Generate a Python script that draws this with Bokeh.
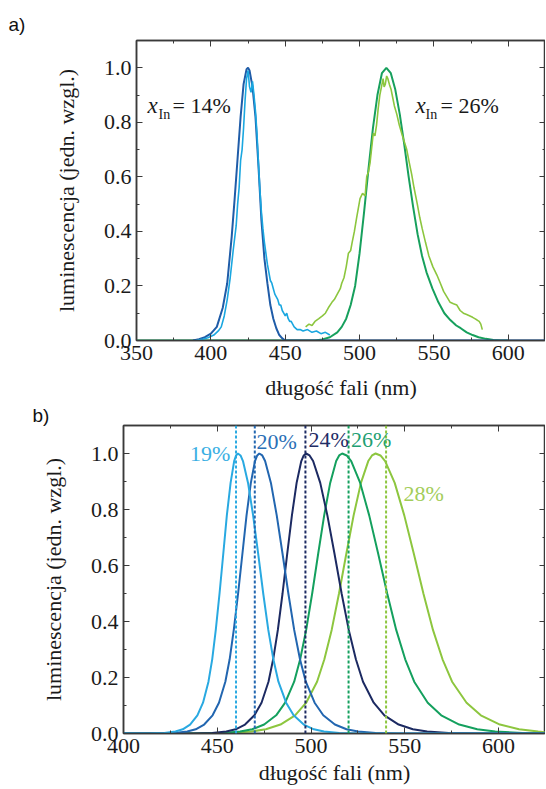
from bokeh.plotting import figure
from bokeh.layouts import column, row
from bokeh.models import (Range1d, SingleIntervalTicker, LinearAxis, Label, Span,
                          PrintfTickFormatter)
from bokeh.embed import file_html
from bokeh.resources import INLINE

# ---------------- data: panel a ----------------
a_blue_fit_x = [388, 392, 396, 400, 404, 408, 411, 414, 416, 418, 420, 422, 424, 425, 426,
                428, 430, 432, 434, 436, 438, 440, 442, 444, 446, 448, 450, 625]
a_blue_fit_y = [0, 0.005, 0.012, 0.025, 0.05, 0.12, 0.21, 0.38, 0.52, 0.67, 0.82, 0.94, 0.995,
                1.0, 0.99, 0.93, 0.82, 0.64, 0.44, 0.30, 0.21, 0.13, 0.08, 0.045, 0.02, 0.008, 0, 0]

a_blue_meas_x = [390, 394, 398, 402, 405, 407, 409, 411, 413, 415, 417, 418, 419, 420, 421, 422,
                 423, 424, 425, 426, 427, 428, 429, 430, 431, 432, 433, 434, 435, 436, 437, 438,
                 439, 440, 441, 442, 443, 444, 445, 446, 447, 448, 449, 450, 451, 452, 453, 454,
                 456, 458, 460, 462, 465, 468, 471, 474, 477, 480]
a_blue_meas_y = [0.0, 0.004, 0.01, 0.02, 0.035, 0.05, 0.09, 0.15, 0.23, 0.33, 0.42, 0.50, 0.56,
                 0.66, 0.70, 0.78, 0.88, 0.96, 0.99, 0.93, 0.91, 0.95, 0.90, 0.84, 0.76, 0.65,
                 0.55, 0.47, 0.41, 0.36, 0.32, 0.28, 0.25, 0.22, 0.21, 0.19, 0.17, 0.16, 0.15,
                 0.13, 0.13, 0.11, 0.10, 0.09, 0.10, 0.08, 0.07, 0.07, 0.05, 0.04, 0.04, 0.035,
                 0.04, 0.03, 0.035, 0.025, 0.03, 0.02]

a_green_fit_x = [350, 470, 475, 480, 485, 488, 491, 494, 497, 500, 503, 506, 509, 512, 515, 518,
                 521, 524, 527, 530, 533, 536, 539, 542, 545, 549, 553, 557, 561, 565, 568, 572,
                 576, 580, 585, 590, 595, 600]
a_green_fit_y = [0, 0.0, 0.004, 0.012, 0.03, 0.05, 0.08, 0.13, 0.2, 0.32, 0.47, 0.63, 0.78, 0.90,
                 0.98, 1.0, 0.98, 0.92, 0.83, 0.72, 0.60, 0.49, 0.39, 0.31, 0.25, 0.19, 0.14,
                 0.10, 0.075, 0.055, 0.045, 0.03, 0.02, 0.012, 0.006, 0.002, 0.0, 0.0]

a_green_meas_x = [463.7, 466, 468, 470, 472.6, 475, 477, 479, 481.4, 483, 485, 487, 488, 489.5,
                  491, 492.5, 494, 495, 496.5, 498, 500.3, 502, 503.7, 504.8, 506, 507, 508,
                  509.2, 510.3, 511.4, 512.5, 513.6, 514.7, 515.8, 516.5, 517.3, 518.2, 519,
                  520, 521.2, 522.3, 523.4, 525, 526.7, 528.3, 530, 531.7, 533.3, 535, 536.6,
                  537.7, 538.8, 540.5, 542.1, 544.3, 546.6, 549.3, 552, 554.3, 556.5, 558.7,
                  560.9, 563.1, 565.4, 567.6, 569.8, 572, 574.2, 576, 577.5, 579, 580.4, 581.5,
                  582.5]
a_green_meas_y = [0.05, 0.06, 0.055, 0.07, 0.08, 0.09, 0.10, 0.12, 0.14, 0.15, 0.17, 0.19, 0.21,
                  0.23, 0.27, 0.32, 0.33, 0.36, 0.40, 0.45, 0.52, 0.54, 0.53, 0.60, 0.62, 0.65,
                  0.70, 0.76, 0.75, 0.79, 0.85, 0.90, 0.93, 0.96, 0.93, 0.94, 0.97, 0.96, 0.94,
                  0.92, 0.89, 0.86, 0.83, 0.79, 0.76, 0.73, 0.70, 0.655, 0.61, 0.56, 0.53, 0.50,
                  0.45, 0.41, 0.36, 0.31, 0.27, 0.24, 0.21, 0.18, 0.16, 0.14, 0.135, 0.13, 0.11,
                  0.10, 0.095, 0.09, 0.085, 0.08, 0.075, 0.07, 0.06, 0.04]

a_labels = ["= 14%", "= 26%"]
a_label_sub = "In"

# ---------------- data: panel b ----------------
b_names = ["19%", "20%", "24%", "26%", "28%"]
b_peak_lines = [460, 470, 497, 520, 540]

b19_x = [400, 414.0, 421.8, 427.7, 431.6, 435.5, 439.4, 442.4, 445.3, 447.3, 449.2, 451.2, 453.2,
         455.1, 457.1, 459.0, 460.0, 461.0, 462.4, 463.7, 466.4, 469.1, 471.8, 474.5, 477.2,
         479.9, 482.6, 486.7, 490.7, 496.1, 501.5, 506.9, 515.0, 525.8, 625]
b20_x = [400, 418.2, 427.2, 434.0, 438.5, 443.0, 447.5, 450.9, 454.3, 456.6, 458.8, 461.1, 463.4,
         465.6, 467.9, 470.1, 471.3, 472.4, 474.0, 475.5, 478.6, 481.7, 484.8, 487.9, 491.0,
         494.1, 497.2, 501.9, 506.5, 512.7, 518.9, 525.1, 534.4, 546.8, 625]
b24_x = [400, 437.3, 447.3, 454.8, 459.8, 464.8, 469.8, 473.6, 477.3, 479.8, 482.3, 484.8, 487.3,
         489.8, 492.3, 494.8, 496.1, 497.3, 499.2, 501.1, 504.9, 508.7, 512.5, 516.3, 520.1,
         523.9, 527.7, 533.4, 539.1, 546.7, 554.3, 561.9, 573.3, 588.5, 625]
b26_x = [400, 439.8, 452.6, 462.2, 468.6, 475.0, 481.4, 486.2, 491.0, 494.2, 497.4, 500.6, 503.8,
         507.0, 510.2, 513.4, 515.0, 516.6, 519.0, 521.4, 526.2, 531.0, 535.8, 540.6, 545.4,
         550.2, 555.0, 562.2, 569.4, 579.0, 588.6, 598.2, 612.6, 625]
b28_x = [400, 440.8, 456.4, 468.1, 475.9, 483.7, 491.5, 497.4, 503.2, 507.1, 511.0, 514.9, 518.8,
         522.7, 526.6, 530.5, 532.5, 534.4, 537.0, 539.5, 544.6, 549.7, 554.8, 559.9, 565.0,
         570.1, 575.2, 582.9, 590.5, 600.7, 610.9, 621.1, 625]

b19_y = [0, 0, 0.002, 0.007, 0.015, 0.032, 0.065, 0.11, 0.185, 0.265, 0.37, 0.5, 0.642, 0.779,
         0.895, 0.973, 0.993, 1.0, 0.993, 0.973, 0.895, 0.779, 0.642, 0.5, 0.37, 0.265, 0.185,
         0.11, 0.065, 0.032, 0.015, 0.007, 0.002, 0, 0]
b20_y = [0, 0, 0.002, 0.007, 0.015, 0.032, 0.065, 0.11, 0.185, 0.265, 0.37, 0.5, 0.642, 0.779,
         0.895, 0.973, 0.993, 1.0, 0.993, 0.973, 0.895, 0.779, 0.642, 0.5, 0.37, 0.265, 0.185,
         0.11, 0.065, 0.032, 0.015, 0.007, 0.002, 0, 0]
b24_y = [0, 0, 0.002, 0.007, 0.015, 0.032, 0.065, 0.11, 0.185, 0.265, 0.37, 0.5, 0.642, 0.779,
         0.895, 0.973, 0.993, 1.0, 0.993, 0.973, 0.895, 0.779, 0.642, 0.5, 0.37, 0.265, 0.185,
         0.11, 0.065, 0.032, 0.015, 0.007, 0.002, 0, 0]
b26_y = [0, 0, 0.002, 0.007, 0.015, 0.032, 0.065, 0.11, 0.185, 0.265, 0.37, 0.5, 0.642, 0.779,
         0.895, 0.973, 0.993, 1.0, 0.993, 0.973, 0.895, 0.779, 0.642, 0.5, 0.37, 0.265, 0.185,
         0.11, 0.065, 0.032, 0.015, 0.007, 0.002, 0]
b28_y = [0, 0, 0.002, 0.007, 0.015, 0.032, 0.065, 0.11, 0.185, 0.265, 0.37, 0.5, 0.642, 0.779,
         0.895, 0.973, 0.993, 1.0, 0.993, 0.973, 0.895, 0.779, 0.642, 0.5, 0.37, 0.265, 0.185,
         0.11, 0.065, 0.032, 0.015, 0.007, 0.004]

x_title = "długość fali (nm)"
y_title = "luminescencja (jedn. wzgl.)"

# ---------------- styling ----------------
SERIF = "Liberation Serif"
SANS = "Liberation Sans"
FS = "22px"
AXC = "#3a3a3a"
TXT = "#1a1a1a"


def make_fig(width, height, xr, left, top, panel, title_offset, title_standoff, xlab_standoff):
    p = figure(width=width, height=height, x_range=Range1d(*xr), y_range=Range1d(0, 1.1),
               output_backend="svg", toolbar_location=None,
               min_border_left=left, min_border_right=0,
               min_border_top=top, min_border_bottom=0)
    p.grid.visible = False
    p.outline_line_color = AXC
    p.outline_line_width = 1.5
    p.background_fill_color = "white"
    p.border_fill_color = "white"
    p.title.text = panel
    p.title.align = "left"
    p.title.offset = title_offset
    p.title.standoff = title_standoff
    p.title.text_font = SANS
    p.title.text_font_size = "19px"
    p.title.text_font_style = "normal"
    p.title.text_color = "#111111"
    xt = SingleIntervalTicker(interval=50, num_minor_ticks=2)
    yt = SingleIntervalTicker(interval=0.2, num_minor_ticks=2)
    p.xaxis.ticker = xt
    p.yaxis.ticker = yt
    p.yaxis.formatter = PrintfTickFormatter(format="%.1f")
    for ax in (p.xaxis[0], p.yaxis[0]):
        ax.major_tick_in = 6
        ax.major_tick_out = 0
        ax.minor_tick_in = 3
        ax.minor_tick_out = 0
        ax.major_tick_line_color = AXC
        ax.minor_tick_line_color = AXC
        ax.axis_line_color = AXC
        ax.axis_line_width = 1.5
        ax.major_label_text_font = SERIF
        ax.major_label_text_font_size = FS
        ax.major_label_text_color = TXT
        ax.axis_label_text_font = SERIF
        ax.axis_label_text_font_size = FS
        ax.axis_label_text_font_style = "normal"
        ax.axis_label_text_color = TXT
    p.xaxis.major_label_standoff = 5
    p.yaxis.major_label_standoff = 5
    p.xaxis.axis_label = x_title
    p.yaxis.axis_label = y_title
    p.xaxis.axis_label_standoff = xlab_standoff
    p.yaxis.axis_label_standoff = 22
    for loc, tk in (("above", xt), ("right", yt)):
        ax = LinearAxis(ticker=tk, formatter=PrintfTickFormatter(format=""),
                        major_label_text_font_size="1px", major_label_standoff=0,
                        major_tick_in=6, major_tick_out=0, minor_tick_in=3, minor_tick_out=0,
                        major_tick_line_color=AXC, minor_tick_line_color=AXC,
                        axis_line_color=AXC, axis_line_width=1.5)
        p.add_layout(ax, loc)
    return p


# ---------------- panel a ----------------
pa = make_fig(545, 402, (350, 625), 136, 40, "a)", -128, 11, 12)
pa.line(a_green_fit_x, a_green_fit_y, line_color="#17a05d", line_width=2)
pa.line(a_blue_fit_x, a_blue_fit_y, line_color="#1f5ca8", line_width=2)
pa.line(a_blue_meas_x, a_blue_meas_y, line_color="#1aa7e0", line_width=1.6)
pa.line(a_green_meas_x, a_green_meas_y, line_color="#8cc63e", line_width=1.6)

for lx, dx, txt in ((357.4, 11, a_labels[0]), (537.6, 10, a_labels[1])):
    pa.add_layout(Label(x=lx, y=0.862, text="x", text_font=SERIF, text_font_size="23px",
                        text_font_style="italic", text_color=TXT, text_baseline="alphabetic"))
    pa.add_layout(Label(x=lx, y=0.862, x_offset=dx, y_offset=-9, text=a_label_sub,
                        text_font=SERIF, text_font_size="14px", text_color=TXT,
                        text_baseline="alphabetic"))
    pa.add_layout(Label(x=lx, y=0.862, x_offset=25, text=txt, text_font=SERIF,
                        text_font_size=FS, text_color=TXT, text_baseline="alphabetic"))

# ---------------- panel b ----------------
pb = make_fig(545, 385, (400, 625), 123, 22, "b)", -91, 0, 4)
b_colors = ["#29a9e1", "#2266b0", "#1c2a62", "#14a05e", "#8dc63f"]
b_text_colors = ["#3aafe3", "#2a6fb6", "#1f2d66", "#1f9f73", "#a3cd5a"]
b_xs = [b19_x, b20_x, b24_x, b26_x, b28_x]
b_ys = [b19_y, b20_y, b24_y, b26_y, b28_y]

for xs, ys, c in zip(b_xs[::-1], b_ys[::-1], b_colors[::-1]):
    pb.line(xs, ys, line_color=c, line_width=2)

for loc, c in zip(b_peak_lines, b_colors):
    pb.add_layout(Span(location=loc, dimension="height", line_color=c, line_width=2,
                       line_dash="3 2"))

b_label_pos = [(457.0, 1.0, "right"), (470.9, 1.043, "left"), (498.6, 1.05, "left"),
               (521.3, 1.05, "left"), (549.3, 0.858, "left")]
for (lx, ly, al), txt, c in zip(b_label_pos, b_names, b_text_colors):
    pb.add_layout(Label(x=lx, y=ly, text=txt, text_align=al, text_font=SERIF,
                        text_font_size=FS, text_color=c, text_baseline="alphabetic"))

layout = column(row(pa), row(pb), spacing=0)
open("out.html", "w").write(file_html(layout, INLINE))
